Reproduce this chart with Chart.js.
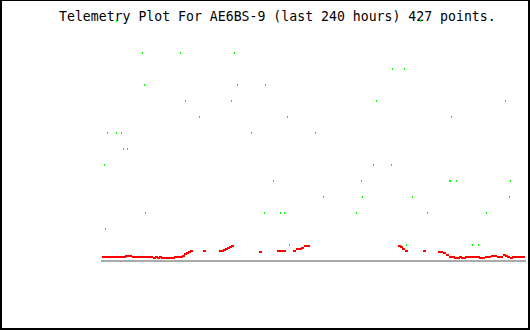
<!DOCTYPE html>
<html>
<head>
<meta charset="utf-8">
<script src="https://cdn.jsdelivr.net/npm/chart.js@4"></script>
<style>
  html, body { margin: 0; padding: 0; background: #fff; }
  #wrap { position: relative; width: 530px; height: 330px; overflow: hidden; }
  #title { position: absolute; left: 59px; top: 9px; font: 13.2px "DejaVu Sans Mono", monospace; color: #000; white-space: pre; z-index: 0; }
  #plot { position: absolute; left: 0; top: 0; z-index: 1; }
  #frame { position: absolute; left: 0; top: 0; width: 530px; height: 330px; box-sizing: border-box; border: 2px solid #000; border-top-width: 1px; z-index: 2; pointer-events: none; }
</style>
</head>
<body>
<div id="wrap">
  <div id="title">Telemetry Plot For AE6BS-9 (last 240 hours) 427 points.</div>
  <canvas id="plot" width="530" height="330"></canvas>
  <div id="frame"></div>
</div>
<script>
// x = hours since the start of the 240 h window
var hoursMax = 240;
var levelMax = 16;

// red trace (near the bottom)
var redHours = [0.85, 2.54, 4.23, 5.92, 7.61, 9.30, 10.99, 12.68, 13.80, 14.93, 16.06,
  17.75, 19.44, 21.13, 22.82, 24.51, 26.20, 27.89, 29.58, 30.70, 31.83, 32.96,
  34.08, 35.77, 37.46, 39.15, 40.85, 41.97, 43.66, 45.35, 46.48, 47.61, 48.73, 49.86, 50.99,
  58.31, 67.32, 68.45, 69.58, 70.70, 71.83, 72.96, 74.08, 89.86,
  100.00, 101.69, 103.38, 109.01, 110.70, 112.39, 113.52, 115.21, 116.90,
  168.73, 169.86, 170.99, 172.68, 182.82,
  191.27, 192.39, 194.08, 195.77, 197.46, 199.15, 200.85, 202.54, 203.66, 204.79, 205.92,
  207.04, 208.73, 210.42, 212.11, 213.80, 214.93, 216.62, 218.31, 220.00, 221.69, 223.38,
  225.07, 226.76, 228.45, 229.58, 230.70, 232.39, 233.52, 234.65, 236.34, 238.03, 239.72];
var redValues = [0.25, 0.25, 0.25, 0.25, 0.25, 0.25, 0.25, 0.25, 0.3125, 0.3125, 0.3125,
  0.25, 0.25, 0.25, 0.25, 0.25, 0.25, 0.25, 0.1875, 0.25, 0.1875, 0.25,
  0.1875, 0.1875, 0.1875, 0.1875, 0.1875, 0.25, 0.25, 0.25, 0.3125, 0.4375, 0.5, 0.5625, 0.625,
  0.625, 0.625, 0.625, 0.6875, 0.75, 0.8125, 0.875, 0.9375, 0.5625,
  0.625, 0.625, 0.625, 0.625, 0.75, 0.75, 0.8125, 0.9375, 0.9375,
  0.9375, 0.875, 0.75, 0.625, 0.625,
  0.5625, 0.5625, 0.5, 0.375, 0.25, 0.25, 0.1875, 0.1875, 0.25, 0.1875, 0.1875,
  0.25, 0.25, 0.25, 0.25, 0.25, 0.1875, 0.1875, 0.25, 0.25, 0.3125, 0.3125,
  0.25, 0.25, 0.375, 0.3125, 0.25, 0.1875, 0.25, 0.25, 0.25, 0.25, 0.25];

// green samples (discrete levels)
var greenHours = [8.17, 180.56,
  22.82, 44.79, 75.21,
  164.79, 171.55,
  23.94, 76.90, 92.68,
  47.61, 73.52, 155.77, 229.01,
  55.49, 105.07, 198.03,
  3.10, 8.17, 10.99, 84.79, 121.41,
  12.11, 14.37,
  1.41, 154.08, 164.23,
  97.18, 147.32, 196.90, 197.47, 201.41, 231.83,
  125.92, 147.89, 176.06, 231.27,
  24.51, 92.11, 101.13, 103.38, 144.51, 184.51, 218.31,
  1.97,
  106.20, 172.68, 210.42, 213.80];
var greenValues = [15, 15,
  13, 13, 13,
  12, 12,
  11, 11, 11,
  10, 10, 10, 10,
  9, 9, 9,
  8, 8, 8, 8, 8,
  7, 7,
  6, 6, 6,
  5, 5, 5, 5, 5, 5,
  4, 4, 4, 4,
  3, 3, 3, 3, 3, 3, 3,
  2,
  1, 1, 1, 1];

function pts(xs, ys) {
  var out = [];
  for (var i = 0; i < xs.length; i++) out.push({ x: xs[i], y: ys[i] });
  return out;
}

// small pixel blocks used as point markers
function mark(w, h, color) {
  var c = document.createElement('canvas');
  c.width = w; c.height = h;
  var g = c.getContext('2d');
  g.fillStyle = color;
  g.fillRect(0, 0, w, h);
  return c;
}

new Chart(document.getElementById('plot'), {
  type: 'scatter',
  data: {
    datasets: [
      { label: 'red', data: pts(redHours, redValues), pointStyle: mark(3, 2, '#ff0000'), pointRadius: 2 },
      { label: 'green', data: pts(greenHours, greenValues), pointStyle: mark(1, 2, '#00ff00'), pointRadius: 1 }
    ]
  },
  options: {
    responsive: false,
    animation: false,
    events: [],
    layout: { padding: { left: 102, right: 2, top: 5, bottom: 69 } },
    plugins: { legend: { display: false }, tooltip: { enabled: false }, title: { display: false } },
    scales: {
      x: {
        type: 'linear', min: 0, max: hoursMax,
        ticks: { display: false },
        grid: { display: false, drawTicks: false },
        border: { display: true, color: '#aaaaaa', width: 2 }
      },
      y: { display: false, min: 0, max: levelMax }
    }
  }
});
</script>
</body>
</html>
